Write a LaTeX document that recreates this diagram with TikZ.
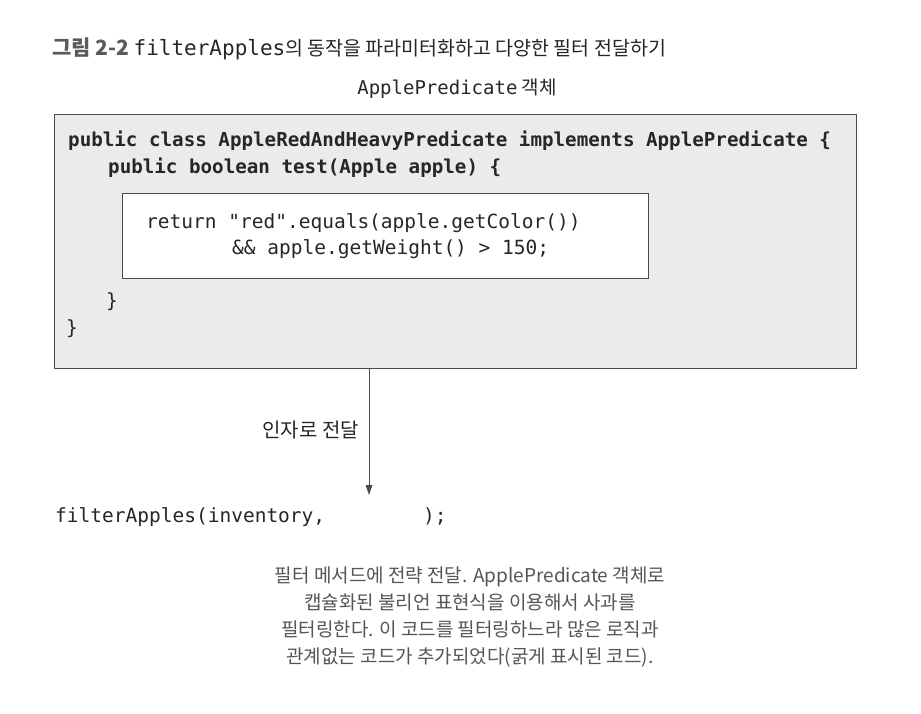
\documentclass[tikz,border=0pt]{standalone}
\usepackage{fontspec}
\setmainfont{Noto Sans CJK KR}
\newfontfamily\codefont{DejaVu Sans Mono}
\usepackage{tikz}
\usetikzlibrary{calc, arrows.meta}

\definecolor{boxgray}{HTML}{EBEBEB}
\definecolor{linegray}{HTML}{4A4A4A}
\definecolor{titlegray}{HTML}{5A5A5A}
\definecolor{notegray}{HTML}{555555}

\tikzset{
    code/.style={font=\codefont\fontsize{19.5}{24}\selectfont, text=black!85, inner sep=0pt, anchor=base west},
    boldcode/.style={code, font=\codefont\bfseries\fontsize{19.2}{24}\selectfont},
    textlabel/.style={font=\fontsize{20}{24}\selectfont, text=black!85, inner sep=0pt},
    note/.style={font=\fontsize{19}{26.7}\selectfont, text=notegray, align=center, inner sep=0pt}
}

\begin{document}
\begin{tikzpicture}[x=1pt, y=-1pt]
    \useasboundingbox (0,0) rectangle (921,713);

    \coordinate (outerTL) at (54, 114);
    \coordinate (outerBR) at (856, 368);
    \coordinate (innerTL) at (122, 193);
    \coordinate (innerBR) at (648, 278);
    \coordinate (slot) at (369, 495);

    \node[textlabel, anchor=base west, font=\fontsize{19.5}{24}\selectfont] (title) at (52, 55)
        {{\bfseries\color{titlegray}\fontsize{21}{24}\selectfont 그림 2-2} {\codefont\fontsize{21}{24}\selectfont filterApples}의 동작을 파라미터화하고 다양한 필터 전달하기};
    \node[textlabel, anchor=base, font=\fontsize{19}{24}\selectfont] (objname) at (457, 94)
        {{\codefont\fontsize{19}{22}\selectfont ApplePredicate} 객체};

    \draw[linegray, fill=boxgray, line width=0.8pt] (outerTL) rectangle (outerBR);
    \draw[linegray, fill=white, line width=0.8pt] (innerTL) rectangle (innerBR);

    \node[boldcode] (classline) at (68, 146) {public class AppleRedAndHeavyPredicate implements ApplePredicate \{};
    \node[boldcode] (testline) at (108, 173) {public boolean test(Apple apple) \{};
    \node[code] (returnline) at (146, 228) {return "red".equals(apple.getColor())};
    \node[code] (andline) at (232, 254) {\&\& apple.getWeight() > 150;};
    \node[code] (closetest) at (106, 307) {\}};
    \node[code] (closeclass) at (66, 334) {\}};

    \draw[-{Triangle[length=10pt, width=6.5pt]}, linegray, line width=0.8pt] (slot |- outerBR) -- (slot);
    \node[textlabel, anchor=east] (passlabel) at (359, 430) {인자로 전달};

    \node[code] (callline) at (55, 522) {filterApples(inventory,};
    \node[code] (callend) at (423, 522) {);};

    \node[note, anchor=north] (caption) at (470, 567)
        {필터 메서드에 전략 전달. ApplePredicate 객체로\\
         캡슐화된 불리언 표현식을 이용해서 사과를\\
         필터링한다. 이 코드를 필터링하느라 많은 로직과\\
         관계없는 코드가 추가되었다(굵게 표시된 코드).};
\end{tikzpicture}
\end{document}
